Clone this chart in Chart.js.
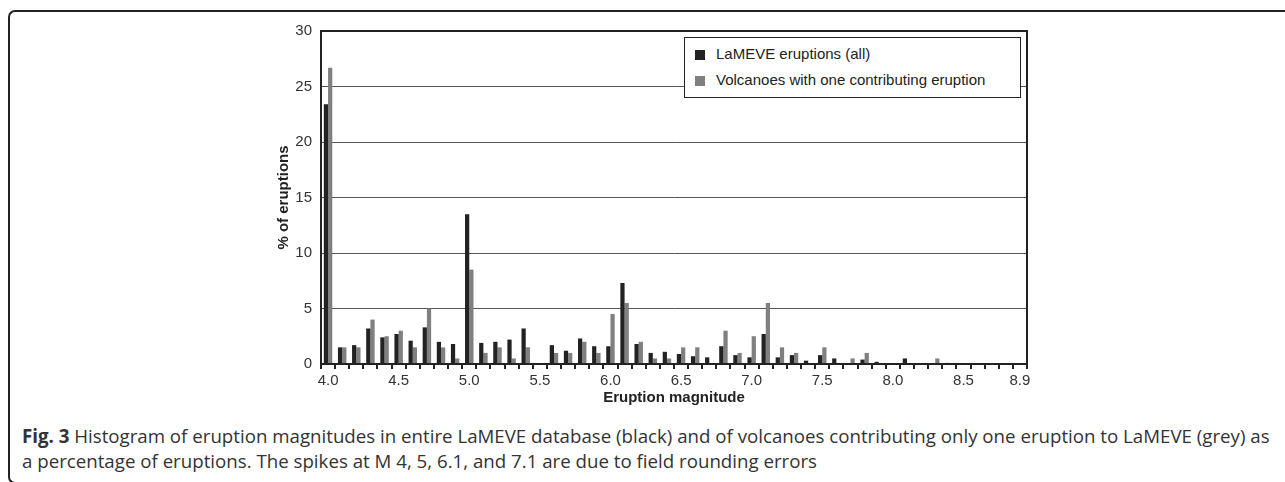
<!DOCTYPE html>
<html>
<head>
<meta charset="utf-8">
<script src="https://cdn.jsdelivr.net/npm/chart.js@4"></script>
<style>
  body { margin: 0; background: #fff; width: 1285px; height: 482px; overflow: hidden; position: relative; font-family: "Liberation Sans", Arial, sans-serif; }
  #frame { position: absolute; left: 8px; top: 10px; width: 1300px; height: 470px; border-top: 2px solid #222; border-left: 2px solid #222; border-bottom: 2px solid #222; border-radius: 7px 0 0 7px; }
  #wrap { position: absolute; left: 0; top: 0; width: 1285px; height: 411px; }
  #legend { position: absolute; left: 684px; top: 37px; width: 335px; height: 59px; border: 1px solid #222; background: #fff; font-size: 15px; color: #222; }
  #legend div { position: absolute; left: 10px; white-space: nowrap; }
  #legend span { display: inline-block; width: 10px; height: 10px; margin-right: 11px; vertical-align: -1px; }
  #caption { position: absolute; left: 22px; top: 423px; font-family: "Open Sans", sans-serif; font-size: 18.7px; line-height: 25px; color: #333; white-space: nowrap; }
</style>
</head>
<body>
<div id="frame"></div>
<div id="wrap"><canvas id="myChart"></canvas></div>
<div id="legend">
  <div style="top:7px"><span style="background:#222"></span>LaMEVE eruptions (all)</div>
  <div style="top:33px"><span style="background:#808080"></span>Volcanoes with one contributing eruption</div>
</div>
<div id="caption"><b>Fig. 3</b> Histogram of eruption magnitudes in entire LaMEVE database (black) and of volcanoes contributing only one eruption to LaMEVE (grey) as<br>a percentage of eruptions. The spikes at M 4, 5, 6.1, and 7.1 are due to field rounding errors</div>
<script>
// magnitudes 4.0 - 8.9
const magnitudes = ['4.0','4.1','4.2','4.3','4.4','4.5','4.6','4.7','4.8','4.9',
  '5.0','5.1','5.2','5.3','5.4','5.5','5.6','5.7','5.8','5.9',
  '6.0','6.1','6.2','6.3','6.4','6.5','6.6','6.7','6.8','6.9',
  '7.0','7.1','7.2','7.3','7.4','7.5','7.6','7.7','7.8','7.9',
  '8.0','8.1','8.2','8.3','8.4','8.5','8.6','8.7','8.8','8.9'];

// % of eruptions, all LaMEVE eruptions
const allEruptions = [23.4,1.5,1.7,3.2,2.4,2.7,2.1,3.3,2.0,1.8,
  13.5,1.9,2.0,2.2,3.2,0,1.7,1.2,2.3,1.6,
  1.6,7.3,1.8,1.0,1.1,0.9,0.7,0.6,1.6,0.8,
  0.6,2.7,0.6,0.8,0.3,0.8,0.5,0,0.4,0.2,
  0,0.5,0,0.05,0.1,0.05,0,0,0,0];

// % of eruptions, volcanoes with one contributing eruption
const oneEruption = [26.7,1.5,1.5,4.0,2.5,3.0,1.5,5.0,1.5,0.5,
  8.5,1.0,1.5,0.5,1.5,0,1.0,1.0,2.0,1.0,
  4.5,5.5,2.0,0.5,0.5,1.5,1.5,0,3.0,1.0,
  2.5,5.5,1.5,1.0,0,1.5,0,0.5,1.0,0,
  0,0,0,0.5,0,0,0,0,0,0];

const yTicks = [0,5,10,15,20,25,30];

// frame round the plot area
const boxPlugin = {
  id: 'box',
  afterDraw(chart) {
    const a = chart.chartArea, c = chart.ctx;
    c.save();
    c.strokeStyle = '#222';
    c.lineWidth = 2;
    c.strokeRect(a.left, a.top, a.right - a.left, a.bottom - a.top);
    c.restore();
  }
};

var ctx = document.getElementById('myChart').getContext('2d');
var myChart = new Chart(ctx, {
  type: 'bar',
  data: {
    labels: magnitudes,
    datasets: [
      { label: 'LaMEVE eruptions (all)', data: allEruptions, backgroundColor: '#222222' },
      { label: 'Volcanoes with one contributing eruption', data: oneEruption, backgroundColor: '#808080' }
    ]
  },
  options: {
    responsive: true,
    maintainAspectRatio: false,
    animation: false,
    datasets: { bar: { categoryPercentage: 0.6, barPercentage: 1.0 } },
    layout: { padding: { left: 271, right: 258, top: 31, bottom: 0 } },
    plugins: { legend: { display: false }, tooltip: { enabled: false } },
    scales: {
      x: {
        grid: { display: true, offset: true, drawOnChartArea: false, color: '#222', lineWidth: 2, tickLength: 5 },
        border: { color: '#222', width: 2 },
        ticks: {
          autoSkip: false, maxRotation: 0, padding: 3, color: '#333',
          font: { family: 'Liberation Sans', size: 15 },
          callback: function(v, i) { return (i % 5 === 0 || i === magnitudes.length - 1) ? magnitudes[i] : ''; }
        },
        title: { display: true, text: 'Eruption magnitude', color: '#222', font: { family: 'Liberation Sans', size: 15, weight: 'bold' }, padding: { top: 2, bottom: 4 } },
        afterFit: function(s) { s.height = 47; }
      },
      y: {
        min: 0, max: 30,
        afterBuildTicks: function(s) { s.ticks = yTicks.map(v => ({ value: v })); },
        grid: { color: '#555', lineWidth: 1, drawTicks: false },
        border: { color: '#222', width: 2 },
        ticks: { padding: 9, color: '#333', font: { family: 'Liberation Sans', size: 15 } },
        title: { display: true, text: '% of eruptions', color: '#222', font: { family: 'Liberation Sans', size: 15, weight: 'bold' } },
        afterFit: function(s) { s.width = 50; }
      }
    }
  },
  plugins: [boxPlugin]
});
</script>
</body>
</html>
